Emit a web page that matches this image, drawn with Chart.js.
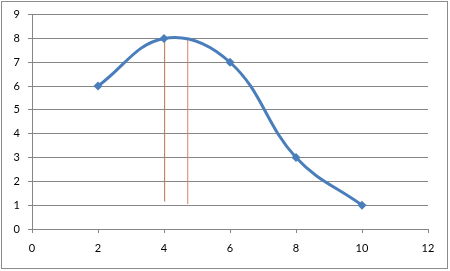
<!DOCTYPE html>
<html><head><meta charset="utf-8">
<script src="https://cdn.jsdelivr.net/npm/chart.js@4"></script>
<style>html,body{margin:0;padding:0;background:#fff;}#wrap{width:450px;height:271px;position:relative;}</style>
</head><body><div id="wrap"><canvas id="c" width="450" height="271"></canvas></div>
<script>
const xValues = [2, 4, 6, 8, 10];
const yValues = [6, 8, 7, 3, 1];
const line1X = [4.02, 4.02];
const line1Y = [1.15, 8.0];
const line2X = [4.72, 4.72];
const line2Y = [1.05, 8.02];
const xTicks = [0, 2, 4, 6, 8, 10, 12];
const yTicks = [0, 1, 2, 3, 4, 5, 6, 7, 8, 9];

const zip = (xs, ys) => xs.map((x, i) => ({x, y: ys[i]}));

const borderPlugin = {
  id: 'outerBorder',
  afterDraw(chart) {
    const ctx = chart.ctx;
    ctx.save();
    ctx.strokeStyle = '#8c8c8c';
    ctx.lineWidth = 1;
    ctx.strokeRect(1.5, 1.5, 446, 267);
    ctx.restore();
  }
};

new Chart(document.getElementById('c'), {
  type: 'line',
  data: {
    datasets: [
      {
        data: zip(line1X, line1Y),
        borderColor: '#b5714f', borderWidth: 1, pointRadius: 0, tension: 0, order: 2
      },
      {
        data: zip(line2X, line2Y),
        borderColor: '#d4826a', borderWidth: 1, pointRadius: 0, tension: 0, order: 2
      },
      {
        data: zip(xValues, yValues),
        borderColor: '#4a7ebb', backgroundColor: '#4a7ebb',
        borderWidth: 3, tension: 0.4,
        pointStyle: 'rectRot', pointRadius: 4.5, pointBorderWidth: 0,
        pointBackgroundColor: '#4a7ebb', order: 1
      }
    ]
  },
  options: {
    responsive: false, animation: false, devicePixelRatio: 1,
    layout: { padding: { left: 0, right: 22, top: 14, bottom: 0 } },
    plugins: { legend: { display: false }, tooltip: { enabled: false } },
    scales: {
      x: {
        type: 'linear', min: 0, max: 12,
        afterBuildTicks: s => { s.ticks = xTicks.map(v => ({value: v})); },
        afterFit: s => { s.height = 42; },
        grid: { drawOnChartArea: false, drawTicks: true, tickLength: 4, color: '#868686' },
        border: { display: true, color: '#868686' },
        ticks: { font: { family: 'Lato', size: 11 }, color: '#000', padding: 9, maxRotation: 0 }
      },
      y: {
        min: 0, max: 9,
        afterBuildTicks: s => { s.ticks = yTicks.map(v => ({value: v})); },
        afterFit: s => { s.width = 32; },
        grid: { color: '#868686', tickLength: 4 },
        border: { display: true, color: '#868686' },
        ticks: { font: { family: 'Lato', size: 11 }, color: '#000', padding: 8 }
      }
    }
  },
  plugins: [borderPlugin]
});
</script></body></html>
